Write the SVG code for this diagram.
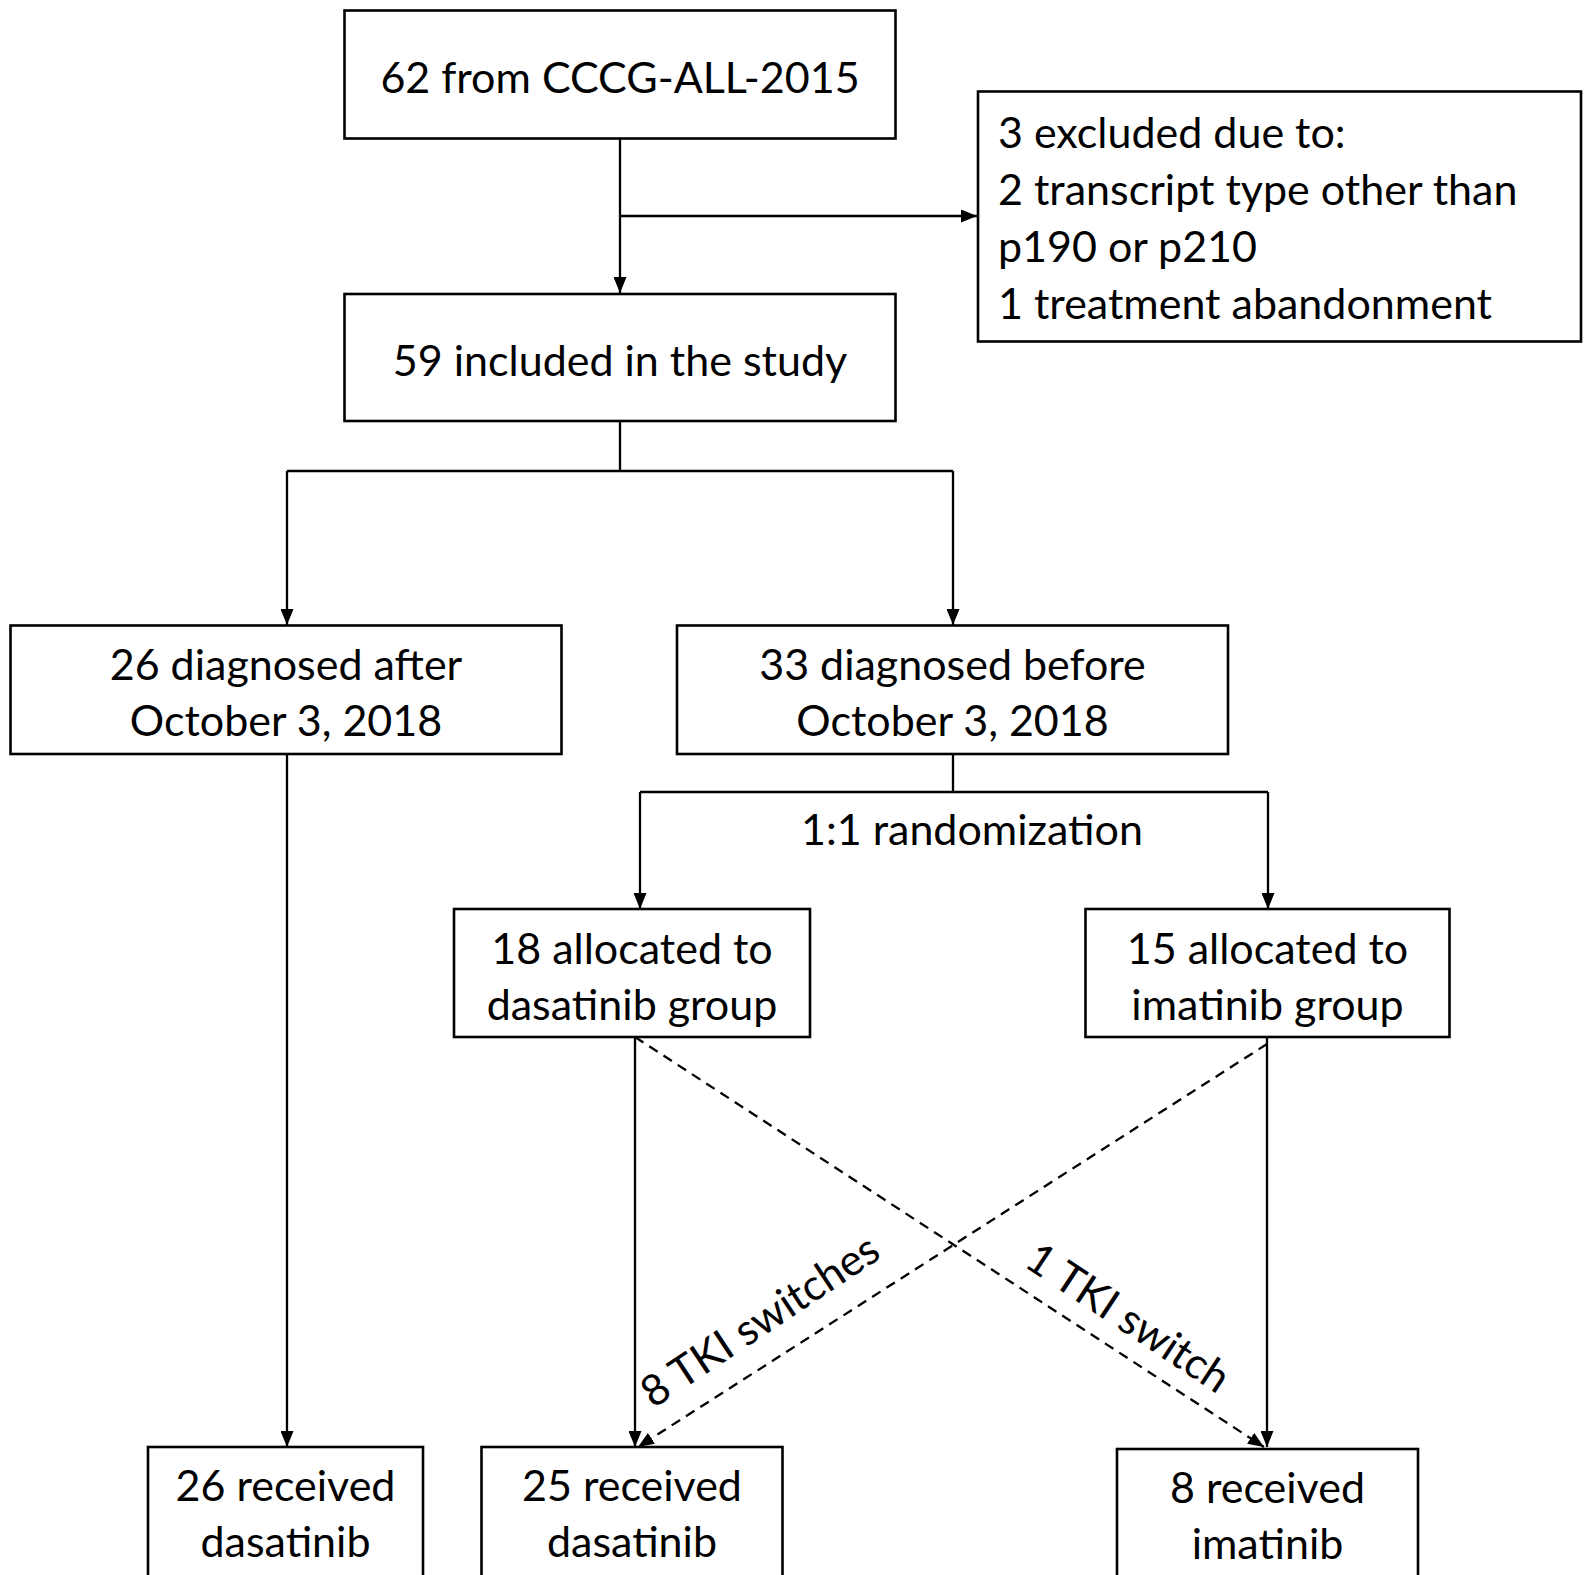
<svg xmlns="http://www.w3.org/2000/svg" width="1589" height="1575" viewBox="0 0 1589 1575">
<style>
.box{fill:#fff;stroke:#000;stroke-width:2.6}
.t{font-family:Lato,"Liberation Sans",sans-serif;font-size:43px;fill:#000}
.c{text-anchor:middle}
.ln{fill:none;stroke:#000;stroke-width:2.3}
.dash{stroke-dasharray:10 7}
</style>
<defs>
<marker id="ah" markerWidth="16" markerHeight="13" refX="16" refY="6.5" orient="auto" markerUnits="userSpaceOnUse">
<path d="M0,0 L16,6.5 L0,13 Z" fill="#000"/>
</marker>
</defs>
<rect width="1589" height="1575" fill="#fff"/>
<g id="connectors">
<path class="ln" d="M620,139 V293" marker-end="url(#ah)"/>
<path class="ln" d="M620,216 H977" marker-end="url(#ah)"/>
<path class="ln" d="M620,421 V471 M287,471 H953"/>
<path class="ln" d="M287,471 V625" marker-end="url(#ah)"/>
<path class="ln" d="M953,471 V625" marker-end="url(#ah)"/>
<path class="ln" d="M287,754 V1447" marker-end="url(#ah)"/>
<path class="ln" d="M953,754 V792 M640,792 H1268"/>
<path class="ln" d="M640,792 V909" marker-end="url(#ah)"/>
<path class="ln" d="M1268,792 V909" marker-end="url(#ah)"/>
<path class="ln" d="M635,1037 V1447" marker-end="url(#ah)"/>
<path class="ln" d="M1267,1037 V1447" marker-end="url(#ah)"/>
<path class="ln dash" d="M635,1037 L1264,1447" marker-end="url(#ah)"/>
<path class="ln dash" d="M1267,1044 L638,1447" marker-end="url(#ah)"/>
<text class="t c" transform="translate(768,1333) rotate(-33.5)">8 TKI switches</text>
<text class="t c" transform="translate(1120,1330) rotate(33.5)">1 TKI switch</text>
<text class="t c" x="972" y="845">1:1 randomization</text>
</g>
<g id="n1"><rect class="box" x="344.5" y="10.5" width="551" height="128"/><text class="t c" x="620" y="93">62 from CCCG-ALL-2015</text></g>
<g id="n2"><rect class="box" x="978" y="91.5" width="603" height="250"/>
<text class="t" x="998" y="148">3 excluded due to:</text>
<text class="t" x="998" y="205">2 transcript type other than</text>
<text class="t" x="998" y="262">p190 or p210</text>
<text class="t" x="998" y="319">1 treatment abandonment</text></g>
<g id="n3"><rect class="box" x="344.5" y="294" width="551" height="127"/><text class="t c" x="620" y="376">59 included in the study</text></g>
<g id="n4"><rect class="box" x="10.5" y="625.5" width="551" height="128.5"/><text class="t c" x="286" y="680">26 diagnosed after</text><text class="t c" x="286" y="736">October 3, 2018</text></g>
<g id="n5"><rect class="box" x="677" y="625.5" width="551" height="128.5"/><text class="t c" x="952.5" y="680">33 diagnosed before</text><text class="t c" x="952.5" y="736">October 3, 2018</text></g>
<g id="n6"><rect class="box" x="454" y="909" width="356" height="128"/><text class="t c" x="632" y="964">18 allocated to</text><text class="t c" x="632" y="1020">dasatinib group</text></g>
<g id="n7"><rect class="box" x="1085.5" y="909" width="364" height="128"/><text class="t c" x="1267.5" y="964">15 allocated to</text><text class="t c" x="1267.5" y="1020">imatinib group</text></g>
<g id="n8"><rect class="box" x="148" y="1447" width="275" height="160"/><text class="t c" x="285.5" y="1501">26 received</text><text class="t c" x="285.5" y="1557">dasatinib</text></g>
<g id="n9"><rect class="box" x="481.5" y="1447" width="301" height="160"/><text class="t c" x="632" y="1501">25 received</text><text class="t c" x="632" y="1557">dasatinib</text></g>
<g id="n10"><rect class="box" x="1117" y="1449" width="301" height="160"/><text class="t c" x="1267.5" y="1503">8 received</text><text class="t c" x="1267.5" y="1559">imatinib</text></g>
</svg>
